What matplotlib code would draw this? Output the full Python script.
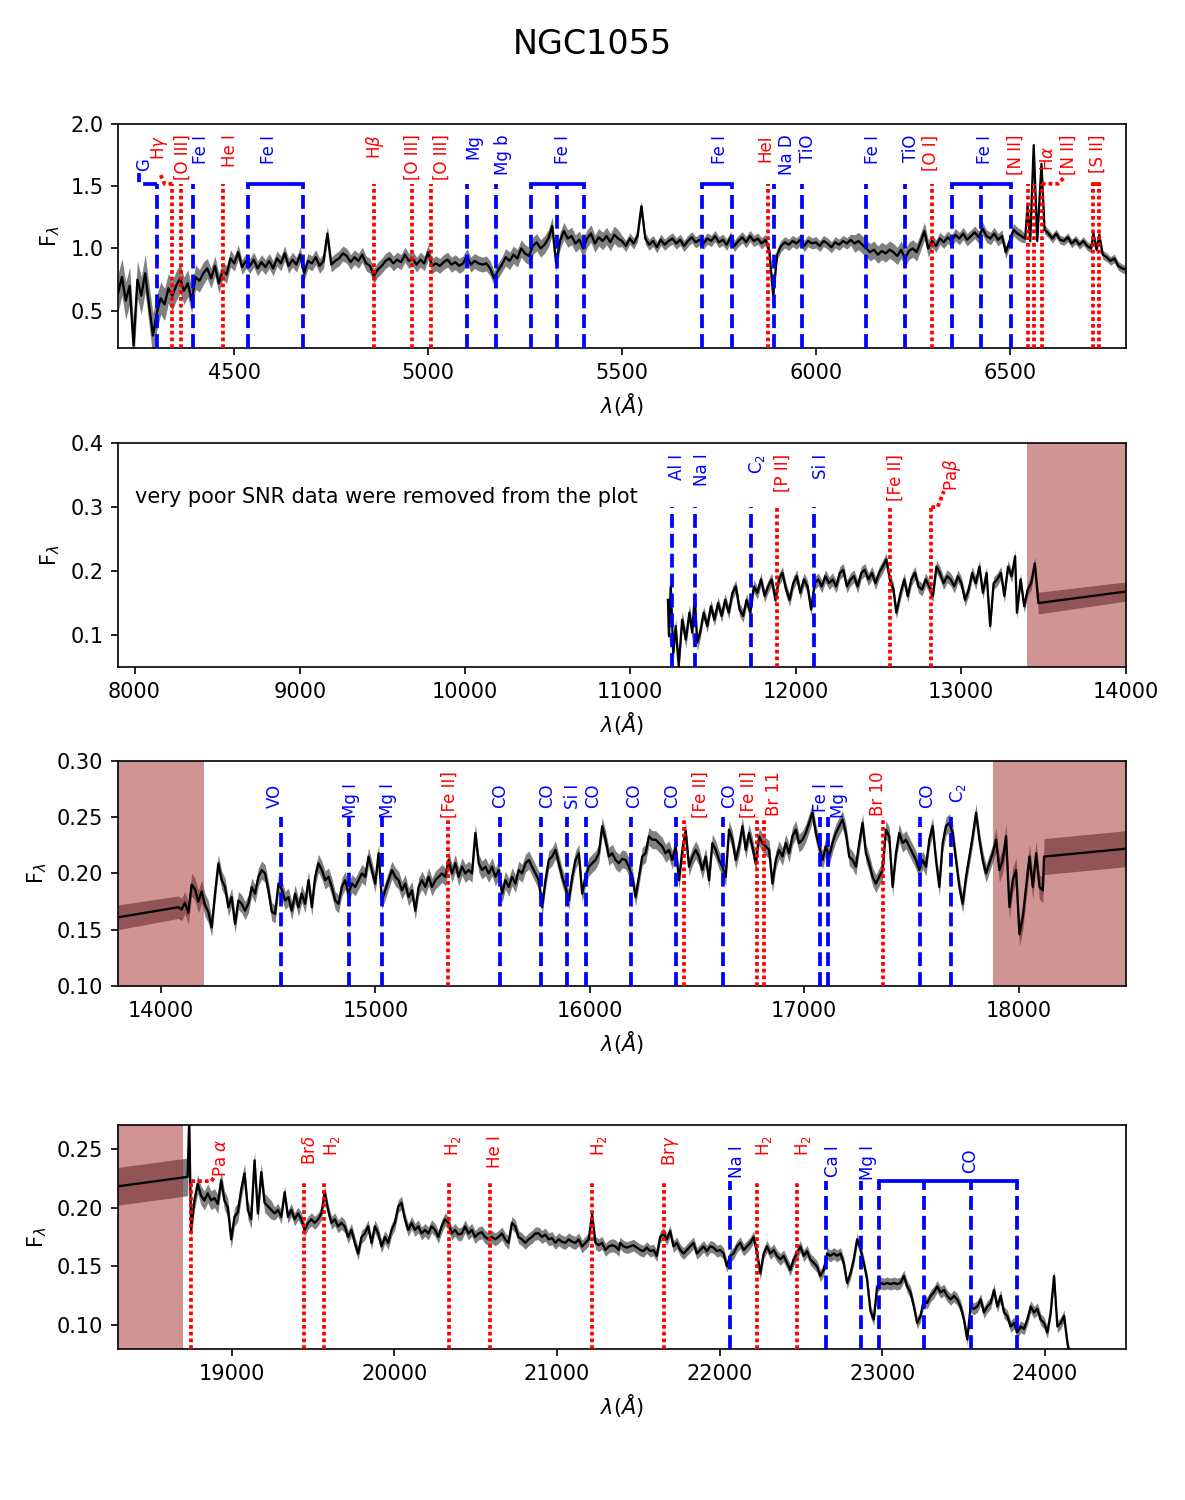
import numpy as np
import matplotlib
matplotlib.use('Agg')
import matplotlib.pyplot as plt

# ---------------- Panel 1 : optical spectrum ----------------
p1_grid_start, p1_grid_step = 4200, 10
p1_flux_grid = [
    0.64, 0.77, 0.58, 0.70, 0.22, 0.75, 0.62, 0.80, 0.55, 0.30,
    0.48, 0.60, 0.55, 0.68, 0.62, 0.70, 0.76, 0.66, 0.72, 0.58,
    0.77, 0.74, 0.80, 0.84, 0.76, 0.86, 0.72, 0.82, 0.79, 0.92,
    0.88, 0.97, 0.85, 0.90, 0.86, 0.91, 0.84, 0.89, 0.85, 0.90,
    0.84, 0.92, 0.88, 0.96, 0.86, 0.91, 0.87, 0.95, 0.80, 0.90,
    0.88, 0.93, 0.86, 0.90, 1.12, 0.87, 0.90, 0.92, 0.96, 0.94,
    0.89, 0.93, 0.90, 0.95, 0.88, 0.86, 0.78, 0.83, 0.86, 0.90,
    0.92, 0.88, 0.91, 0.89, 0.95, 0.90, 0.92, 0.87, 0.91, 0.88,
    0.97, 0.86, 0.88, 0.86, 0.89, 0.91, 0.87, 0.89, 0.86, 0.88,
    0.94, 0.87, 0.90, 0.88, 0.87, 0.88, 0.84, 0.76, 0.82, 0.87,
    0.93, 0.90, 0.95, 0.92, 1.00, 0.96, 0.94, 1.02, 1.05, 1.00,
    1.03, 1.08, 1.18, 0.88, 1.06, 1.14, 1.08, 1.10, 1.04, 1.07,
    1.00, 1.08, 1.12, 1.04, 1.09, 1.06, 1.10, 1.05, 1.11, 1.08,
    1.06, 1.02, 1.08, 1.04, 1.10, 1.34, 1.08, 1.03, 1.06, 1.01,
    1.07, 1.03, 1.06, 1.08, 1.04, 1.07, 1.02, 1.06, 1.09, 1.05,
    1.07, 1.04, 1.08, 1.06, 1.10, 1.05, 1.07, 1.03, 1.09, 1.02,
    1.06, 1.09, 1.05, 1.10, 1.06, 1.08, 1.04, 1.07, 0.98, 0.62,
    0.95, 1.02, 1.05, 1.03, 1.06, 1.04, 1.07, 1.02, 1.06, 1.04,
    1.05, 1.02, 1.06, 1.04, 1.01, 1.05, 1.03, 1.06, 1.04, 1.07,
    1.04, 1.06, 1.03, 1.00, 0.97, 0.99, 0.95, 0.98, 0.96, 0.99,
    0.97, 0.94, 0.99, 0.92, 0.98, 1.00, 0.97, 1.05, 1.14, 1.00,
    1.06, 1.02, 1.08, 1.05, 1.09, 1.06, 1.11, 1.08, 1.12, 1.07,
    1.10, 1.13, 1.09, 1.16, 1.10, 1.08, 1.12, 1.07, 1.10, 0.97,
    1.06, 1.15, 1.12, 1.10,
]
p1_err_grid = ([0.15, 0.15, 0.15, 0.15, 0.18, 0.15, 0.15, 0.15, 0.16, 0.18,
                0.14, 0.13, 0.13, 0.12, 0.12, 0.12, 0.12, 0.11, 0.11, 0.10,
                0.10, 0.09, 0.09, 0.08, 0.08, 0.08, 0.08, 0.07, 0.07, 0.07]
               + [0.06] * 70 + [0.07] * 30 + [0.045] * 60 + [0.07] * 20 + [0.05] * 24)
p1_tail_wave = [6540, 6546, 6553, 6562, 6571, 6582, 6590, 6600, 6610, 6620, 6630, 6640,
                6650, 6660, 6670, 6680, 6690, 6700, 6710, 6716, 6724, 6731, 6740, 6750,
                6760, 6770, 6780, 6790, 6800]
p1_tail_flux = [1.08, 1.34, 1.06, 1.83, 1.06, 1.68, 1.15, 1.12, 1.08, 1.12, 1.07, 1.06,
                1.09, 1.04, 1.07, 1.03, 1.06, 1.02, 1.00, 1.12, 0.99, 1.11, 0.95, 0.93,
                0.90, 0.92, 0.86, 0.84, 0.83]
p1_tail_err = [0.035] * 29

# ---------------- Panel 2 : J band ----------------
p2_wave = [11228, 11234, 11245, 11260, 11275, 11293, 11314, 11336, 11358, 11375,
           11390, 11405, 11423, 11444, 11466, 11488, 11509, 11531, 11553, 11574,
           11596, 11618, 11639, 11661, 11683, 11704, 11726, 11748, 11769, 11791,
           11813, 11834, 11856, 11878, 11899, 11921, 11943, 11964, 11986, 12008,
           12029, 12051, 12073, 12094, 12116, 12138, 12159, 12181, 12203, 12224,
           12246, 12268, 12289, 12311, 12333, 12354, 12376, 12398, 12419, 12441,
           12463, 12484, 12506, 12528, 12549, 12571, 12593, 12610, 12636, 12658,
           12679, 12701, 12723, 12744, 12766, 12788, 12809, 12831, 12853, 12874,
           12896, 12918, 12939, 12961, 12983, 13004, 13026, 13048, 13069, 13091,
           13113, 13134, 13156, 13178, 13199, 13221, 13243, 13264, 13286, 13308,
           13329, 13340, 13362, 13384, 13405, 13426, 13448, 13470, 14000]
p2_flux = [0.155, 0.098, 0.176, 0.072, 0.114, 0.052, 0.124, 0.093, 0.135, 0.104,
           0.161, 0.088, 0.104, 0.135, 0.114, 0.145, 0.124, 0.150, 0.130, 0.155,
           0.135, 0.166, 0.176, 0.140, 0.130, 0.155, 0.135, 0.176, 0.166, 0.187,
           0.161, 0.176, 0.187, 0.155, 0.187, 0.197, 0.171, 0.155, 0.181, 0.192,
           0.166, 0.187, 0.176, 0.140, 0.181, 0.187, 0.176, 0.192, 0.181, 0.187,
           0.176, 0.197, 0.202, 0.176, 0.187, 0.192, 0.176, 0.197, 0.202, 0.187,
           0.197, 0.181, 0.197, 0.207, 0.218, 0.187, 0.171, 0.135, 0.166, 0.187,
           0.161, 0.187, 0.197, 0.176, 0.171, 0.187, 0.176, 0.161, 0.207, 0.197,
           0.181, 0.192, 0.187, 0.176, 0.192, 0.181, 0.155, 0.171, 0.197, 0.181,
           0.207, 0.166, 0.197, 0.114, 0.181, 0.187, 0.197, 0.161, 0.207, 0.192,
           0.223, 0.135, 0.187, 0.145, 0.171, 0.181, 0.212, 0.150, 0.168]
p2_err = [0.013] * 12 + [0.010] * 95 + [0.017, 0.015]

# ---------------- Panel 3 : H band ----------------
p3_grid_start, p3_grid_step = 14081, 15.564
p3_flux_grid = [
    0.170, 0.168, 0.174, 0.165, 0.190, 0.186, 0.175, 0.184, 0.172, 0.166,
    0.152, 0.182, 0.209, 0.194, 0.188, 0.170, 0.179, 0.155, 0.176, 0.173,
    0.167, 0.173, 0.188, 0.182, 0.197, 0.203, 0.200, 0.185, 0.166, 0.164,
    0.191, 0.186, 0.176, 0.179, 0.167, 0.182, 0.170, 0.182, 0.173, 0.194,
    0.170, 0.197, 0.209, 0.203, 0.194, 0.197, 0.188, 0.176, 0.173, 0.188,
    0.194, 0.182, 0.191, 0.188, 0.194, 0.200, 0.197, 0.215, 0.203, 0.191,
    0.218, 0.176, 0.185, 0.194, 0.203, 0.197, 0.194, 0.185, 0.191, 0.179,
    0.185, 0.167, 0.188, 0.194, 0.188, 0.197, 0.188, 0.194, 0.197, 0.200,
    0.197, 0.212, 0.200, 0.209, 0.197, 0.206, 0.200, 0.203, 0.200, 0.236,
    0.209, 0.203, 0.206, 0.200, 0.206, 0.197, 0.203, 0.182, 0.194, 0.188,
    0.197, 0.191, 0.203, 0.200, 0.209, 0.212, 0.206, 0.200, 0.194, 0.170,
    0.194, 0.212, 0.215, 0.221, 0.209, 0.197, 0.188, 0.176, 0.197, 0.212,
    0.218, 0.182, 0.197, 0.206, 0.209, 0.212, 0.218, 0.242, 0.230, 0.215,
    0.218, 0.212, 0.209,
    0.213, 0.212, 0.206, 0.197, 0.179, 0.197, 0.215, 0.218, 0.233, 0.230,
    0.230, 0.227, 0.224, 0.218, 0.221, 0.212, 0.224, 0.194, 0.221, 0.238,
    0.206, 0.215, 0.221, 0.215, 0.203, 0.215, 0.194, 0.227, 0.221, 0.212,
    0.206, 0.197, 0.239, 0.230, 0.212, 0.224, 0.242, 0.221, 0.236, 0.224,
    0.209, 0.233, 0.227, 0.224, 0.221, 0.191, 0.212, 0.221, 0.215, 0.227,
    0.218, 0.233, 0.239, 0.227, 0.230, 0.236, 0.245, 0.254, 0.236, 0.224,
    0.212, 0.224, 0.215, 0.227, 0.236, 0.242, 0.248, 0.236, 0.215, 0.212,
    0.206, 0.227, 0.245, 0.218, 0.209, 0.197, 0.191, 0.197, 0.203, 0.239,
    0.233, 0.188, 0.218, 0.236, 0.227, 0.230, 0.224, 0.218, 0.212, 0.203,
    0.212, 0.206, 0.230, 0.242, 0.212, 0.188, 0.227, 0.242, 0.245, 0.236,
    0.212, 0.188, 0.173, 0.197, 0.215, 0.233, 0.254, 0.230, 0.212, 0.200,
    0.209, 0.218, 0.230, 0.203, 0.212, 0.233, 0.170, 0.194, 0.203, 0.146,
    0.161, 0.188, 0.215, 0.188, 0.218, 0.188, 0.185,
]
p3_err_grid = [0.010] * 10 + [0.008] * 235 + [0.011] * 15
p3_head_wave, p3_head_flux, p3_head_err = [13800], [0.161], [0.011]
p3_tail_wave, p3_tail_flux, p3_tail_err = [18118, 18500], [0.215, 0.222], [0.016, 0.016]

# ---------------- Panel 4 : K band ----------------
p4_head_wave = [18300, 18728, 18738]
p4_head_flux = [0.218, 0.226, 0.275]
p4_head_err = [0.016, 0.016, 0.010]
p4a_start, p4a_step = 18749.2, 20.555
p4a_flux = [
    0.181, 0.206, 0.220, 0.210, 0.206, 0.212, 0.206, 0.208, 0.203, 0.223,
    0.206, 0.200, 0.173, 0.192, 0.196, 0.215, 0.229, 0.198, 0.190, 0.240,
    0.195, 0.230, 0.204, 0.201, 0.198, 0.195, 0.198, 0.192, 0.213, 0.192,
    0.198, 0.190, 0.195, 0.190, 0.181, 0.187, 0.190, 0.187, 0.190, 0.195,
    0.213, 0.198, 0.187, 0.190, 0.184, 0.187, 0.184, 0.175, 0.181, 0.170,
    0.161, 0.175, 0.178, 0.184, 0.170, 0.184, 0.178, 0.167, 0.175, 0.170,
    0.181, 0.187, 0.201, 0.204, 0.190, 0.181, 0.187, 0.181, 0.184, 0.178,
    0.181, 0.178, 0.184, 0.181, 0.175, 0.184, 0.190, 0.187, 0.178, 0.181,
    0.177, 0.178, 0.184, 0.178, 0.181, 0.175, 0.178, 0.179, 0.175, 0.173,
    0.175, 0.173, 0.175, 0.178, 0.173, 0.170, 0.187, 0.184, 0.175, 0.173,
    0.170, 0.173, 0.175, 0.178, 0.178, 0.175, 0.177, 0.173, 0.174, 0.170,
    0.173, 0.171, 0.170, 0.173, 0.171, 0.170, 0.173, 0.167, 0.170, 0.173,
    0.194, 0.170, 0.168, 0.170, 0.164, 0.167, 0.168, 0.167, 0.164,
]
p4b_start, p4b_step = 21388.1, 20.534
p4b_flux = [
    0.170, 0.167, 0.166, 0.167, 0.168, 0.166, 0.164, 0.163, 0.166, 0.163,
    0.164, 0.159, 0.175, 0.178, 0.173, 0.180, 0.167, 0.170, 0.164, 0.161,
    0.164, 0.167, 0.170, 0.161, 0.164, 0.167, 0.163, 0.167, 0.166, 0.163,
    0.164, 0.161, 0.150, 0.159, 0.161, 0.167, 0.170, 0.164, 0.167, 0.170,
    0.175, 0.162, 0.144, 0.161, 0.167, 0.161, 0.164, 0.159, 0.156, 0.159,
    0.153, 0.147, 0.156, 0.161, 0.167, 0.159, 0.163, 0.156, 0.153, 0.150,
    0.142, 0.147, 0.161, 0.159, 0.161, 0.159, 0.161, 0.153, 0.136, 0.144,
    0.156, 0.173, 0.165, 0.153, 0.139, 0.112, 0.105, 0.133, 0.136, 0.135,
    0.136, 0.135, 0.136, 0.135, 0.136, 0.142, 0.133, 0.128, 0.116, 0.102,
    0.108, 0.122, 0.119, 0.125, 0.128, 0.133, 0.128, 0.130, 0.125, 0.122,
    0.125, 0.122, 0.116, 0.105, 0.088, 0.116, 0.114, 0.116, 0.122, 0.111,
    0.116, 0.119, 0.130, 0.116, 0.125, 0.111, 0.108, 0.099, 0.102, 0.094,
    0.099, 0.097, 0.105, 0.116, 0.111, 0.114, 0.105, 0.102, 0.094, 0.111,
    0.142, 0.099, 0.102, 0.108, 0.085, 0.070,
]
p4a_err = [0.008] * 25 + [0.0055] * 104
p4b_err = [0.005] * 136

# ---------------- Line identifications ----------------
# (label, wavelengths, label position, kind, label-top override, connector)
feats1 = [
    ('G', [4300], 4268, 'abs', 0.85, [(4300, 1.52), (4255, 1.52), (4255, 1.61)]),
    (r'H$\gamma$', [4340], 4308, 'em', None, [(4340, 1.52), (4320, 1.52), (4310, 1.59)]),
    ('[O III]', [4363], 4366, 'em', None, None),
    ('Fe I', [4394], 4413, 'abs', None, None),
    ('He I', [4471], 4489, 'em', None, None),
    ('Fe I', [4536, 4676], 4590, 'abs', None, None),
    (r'H$\beta$', [4861], 4864, 'em', None, None),
    ('[O III]', [4959], 4959, 'em', None, None),
    ('[O III]', [5007], 5035, 'em', None, None),
    ('Mg', [5100], 5116, 'abs', None, None),
    ('Mg b', [5176], 5193, 'abs', None, None),
    ('Fe I', [5265, 5332, 5401], 5348, 'abs', None, None),
    ('Fe I', [5706, 5785], 5752, 'abs', None, None),
    ('HeI', [5876], 5870, 'em', None, None),
    ('Na D', [5891], 5926, 'abs', None, None),
    ('TiO', [5964], 5980, 'abs', None, None),
    ('Fe I', [6130], 6147, 'abs', None, None),
    ('TiO', [6229], 6246, 'abs', None, None),
    ('[O I]', [6300], 6297, 'em', None, None),
    ('Fe I', [6352, 6427, 6504], 6437, 'abs', None, None),
    ('[N II]', [6548], 6516, 'em', None, None),
    (r'H$\alpha$', [6563], 6600, 'em', 0.905, None),
    ('[N II]', [6583], 6652, 'em', None, [(6583, 1.52), (6625, 1.52), (6640, 1.57)]),
    ('[S II]', [6716, 6731], 6727, 'em', None, None),
]
feats2 = [
    ('Al I', [11250], 11285, 'abs', None, None),
    ('Na I', [11390], 11433, 'abs', None, None),
    (r'C$_2$', [11732], 11769, 'abs', None, None),
    ('[P II]', [11886], 11921, 'em', None, None),
    ('Si I', [12112], 12155, 'abs', None, None),
    ('[Fe II]', [12571], 12604, 'em', None, None),
    (r'Pa$\beta$', [12822], 12946, 'em', 0.93, [(12822, 0.30), (12860, 0.30), (12898, 0.325)]),
]
feats3 = [
    ('VO', [14560], 14532, 'abs', None, None),
    ('Mg I', [14878], 14886, 'abs', None, None),
    ('Mg I', [15030], 15061, 'abs', None, None),
    ('[Fe II]', [15340], 15349, 'em', None, None),
    ('CO', [15583], 15583, 'abs', None, None),
    ('CO', [15774], 15801, 'abs', None, None),
    ('Si I', [15894], 15922, 'abs', None, None),
    ('CO', [15984], 16015, 'abs', None, None),
    ('CO', [16194], 16207, 'abs', None, None),
    ('CO', [16401], 16386, 'abs', None, None),
    ('[Fe II]', [16440], 16518, 'em', None, None),
    ('CO', [16622], 16650, 'abs', None, None),
    ('[Fe II]', [16778], 16743, 'em', None, None),
    ('Br 11', [16810], 16857, 'em', None, None),
    ('Fe I', [17075], 17076, 'abs', None, None),
    ('Mg I', [17112], 17160, 'abs', None, None),
    ('Br 10', [17365], 17345, 'em', None, None),
    ('CO', [17541], 17572, 'abs', None, None),
    (r'C$_2$', [17684], 17718, 'abs', None, None),
]
feats4 = [
    (r'Pa $\alpha$', [18751], 18934, 'em', 0.94, [(18751, 0.2224), (18875, 0.2224), (18892, 0.226)]),
    (r'Br$\delta$', [19446], 19479, 'em', None, None),
    (r'H$_2$', [19570], 19619, 'em', None, None),
    (r'H$_2$', [20338], 20363, 'em', None, None),
    ('He I', [20587], 20620, 'em', None, None),
    (r'H$_2$', [21218], 21257, 'em', None, None),
    (r'Br$\gamma$', [21661], 21696, 'em', None, None),
    ('Na I', [22062], 22107, 'abs', None, None),
    (r'H$_2$', [22233], 22271, 'em', None, None),
    (r'H$_2$', [22477], 22513, 'em', None, None),
    ('Ca I', [22655], 22696, 'abs', None, None),
    ('Mg I', [22871], 22912, 'abs', None, None),
    ('CO', [22980, 23257, 23544, 23832], 23544, 'abs', 0.895, None),
]

# ---------------- assemble arrays ----------------
wl1 = np.concatenate([p1_grid_start + p1_grid_step * np.arange(len(p1_flux_grid)), p1_tail_wave])
fl1 = np.array(p1_flux_grid + p1_tail_flux)
er1 = np.array(p1_err_grid + p1_tail_err)

wl2 = np.array(p2_wave, float)
fl2 = np.array(p2_flux)
er2 = np.array(p2_err)

wl3 = np.concatenate([p3_head_wave, p3_grid_start + p3_grid_step * np.arange(len(p3_flux_grid)), p3_tail_wave])
fl3 = np.array(p3_head_flux + p3_flux_grid + p3_tail_flux)
er3 = np.array(p3_head_err + p3_err_grid + p3_tail_err)

wl4 = np.concatenate([p4_head_wave,
                      p4a_start + p4a_step * np.arange(len(p4a_flux)),
                      p4b_start + p4b_step * np.arange(len(p4b_flux))])
fl4 = np.array(p4_head_flux + p4a_flux + p4b_flux)
er4 = np.array(p4_head_err + p4a_err + p4b_err)

BLUE, RED = 'blue', 'red'
LW = 1.8


def draw_panel(ax, wl, fl, er, xlim, ylim, xticks, yticks, line_top, feats,
               top_em, top_abs, shades):
    ax.fill_between(wl, fl - er, fl + er, color='gray', lw=0, zorder=1)
    for a, b in shades:
        ax.axvspan(a, b, color='brown', alpha=0.5, lw=0, zorder=2)
    ax.plot(wl, fl, color='black', lw=1.1, zorder=3)
    trans = ax.get_xaxis_transform()
    for name, waves, labx, kind, top_ovr, conn in feats:
        col = BLUE if kind == 'abs' else RED
        ls = (0, (3.7, 1.6)) if kind == 'abs' else (0, (1.0, 0.8))
        for w in waves:
            ax.plot([w, w], [ylim[0], line_top], color=col, ls=ls, lw=LW, zorder=4)
        if len(waves) > 1:
            ax.plot([min(waves), max(waves)], [line_top, line_top], color=col, lw=LW, zorder=4)
        if conn is not None:
            cx, cy = zip(*conn)
            ax.plot(cx, cy, color=col, ls=ls, lw=LW, zorder=4)
        ytop = top_ovr if top_ovr is not None else (top_abs if kind == 'abs' else top_em)
        ax.text(labx, ytop, name, color=col, rotation=90, ha='center', va='top',
                fontsize=8, transform=trans)
    ax.set_xlim(*xlim)
    ax.set_ylim(*ylim)
    ax.set_xticks(xticks)
    ax.set_yticks(yticks)
    ax.set_xlabel(r'$\lambda(\AA)$')
    ax.set_ylabel(r'F$_\lambda$')


fig = plt.figure(figsize=(7.9, 10), dpi=150)
fig.text(0.5, 0.970, 'NGC1055', ha='center', va='center', fontsize=16)

ax1 = fig.add_axes([0.0996, 0.768, 0.8506, 0.1493])
draw_panel(ax1, wl1, fl1, er1, (4200, 6800), (0.2, 2.0), [4500, 5000, 5500, 6000, 6500],
           [0.5, 1.0, 1.5, 2.0], 1.52, feats1, 0.953, 0.953, [])

ax2 = fig.add_axes([0.0996, 0.5553, 0.8506, 0.1493])
draw_panel(ax2, wl2, fl2, er2, (7900, 14000), (0.05, 0.4),
           [8000, 9000, 10000, 11000, 12000, 13000, 14000], [0.1, 0.2, 0.3, 0.4],
           0.30, feats2, 0.953, 0.953, [(13400, 14000)])
ax2.text(8000, 0.30, 'very poor SNR data were removed from the plot', fontsize=10,
         ha='left', va='bottom')

ax3 = fig.add_axes([0.0996, 0.3427, 0.8506, 0.15])
draw_panel(ax3, wl3, fl3, er3, (13800, 18500), (0.10, 0.30),
           [14000, 15000, 16000, 17000, 18000], [0.10, 0.15, 0.20, 0.25, 0.30],
           0.25, feats3, 0.953, 0.90, [(13800, 14200), (17880, 18500)])

ax4 = fig.add_axes([0.0996, 0.1007, 0.8506, 0.1493])
draw_panel(ax4, wl4, fl4, er4, (18300, 24500), (0.08, 0.27),
           [19000, 20000, 21000, 22000, 23000, 24000], [0.10, 0.15, 0.20, 0.25],
           0.2224, feats4, 0.954, 0.909, [(18300, 18700)])

fig.savefig('out.png', dpi=150)
